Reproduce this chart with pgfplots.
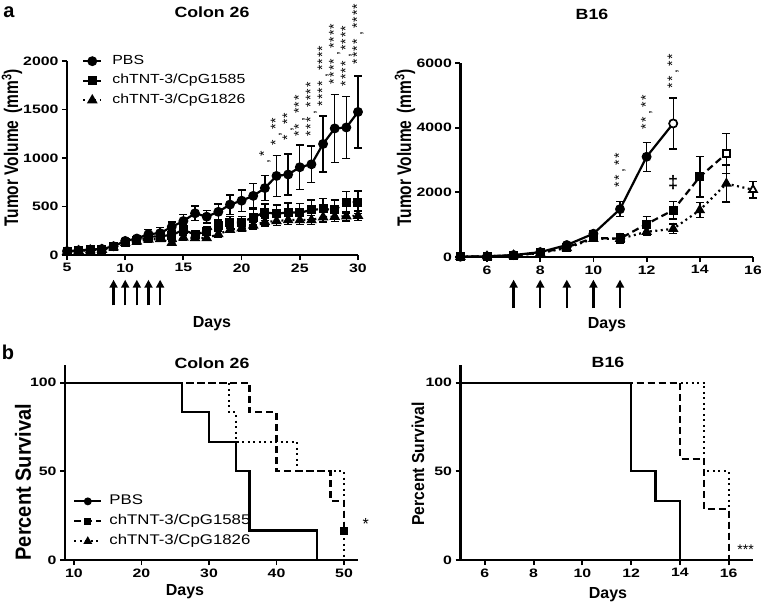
\documentclass[border=0pt]{standalone}
\usepackage{fontspec}
\setmainfont{Liberation Sans}
\newfontfamily\stf{Liberation Sans}[FakeStretch=1.3]
\newfontfamily\stg{Liberation Sans}[FakeStretch=1.2]
\usepackage{graphicx}
\usepackage{pgfplots}
\pgfplotsset{compat=1.18}
\usetikzlibrary{arrows.meta}
\newcommand{\tk}{\stf\bfseries\fontsize{12.2}{12.2}\selectfont}
\newcommand{\lgf}{\stg\fontsize{13.2}{13.2}\selectfont}
\newcommand{\ttl}{\stg\bfseries\fontsize{14.8}{14.8}\selectfont}
\newcommand{\s}{\makebox[6.6pt]{*}}
\newcommand{\cm}{\makebox[9pt]{,}}
\newcommand{\stars}{\fontsize{14}{14}\selectfont}
\tikzset{arr/.style={line width=2.4pt, -{Triangle[length=8pt,width=8pt]}}}
\pgfplotsset{
 base/.style={scale only axis, axis lines=left, axis line style={-, line width=2.2pt},
   tick align=outside, major tick length=5pt, tick style={line width=1.8pt, black},
   ticklabel style={font=\tk}, /pgf/number format/assume math mode=true,
   /pgf/number format/1000 sep={}, clip=false, minor tick num=0},
 eb/.style={error bars/.cd, y dir=both, y explicit,
   error bar style={line width=1.4pt, solid},
   error mark options={rotate=90, mark size=4pt, line width=1.4pt, solid, black}},
 pbs/.style={black, line width=2.2pt, solid, mark=*, mark size=3.8pt, mark options={solid}},
 c85/.style={black, line width=2.2pt, dash pattern=on 7pt off 4pt, mark=square*, mark size=3.4pt, mark options={solid}},
 c26/.style={black, line width=2.2pt, dash pattern=on 2pt off 3.5pt, mark=triangle*, mark size=4pt, mark options={solid}},
 spbs/.style={black, line width=2.2pt, solid, no marks},
 s85/.style={black, line width=2.2pt, dash pattern=on 7pt off 4pt, no marks},
 s26/.style={black, line width=2.2pt, dash pattern=on 2pt off 3.5pt, no marks},
}
\begin{document}
\begin{tikzpicture}
\path[use as bounding box] (0pt,0pt) rectangle (761pt,-607pt);

% ---------- Panel a, Colon 26 ----------
\begin{axis}[base, at={(67pt,-255pt)}, anchor=south west, width=291pt, height=194pt,
  xmin=5, xmax=30, ymin=0, ymax=2000, xtick={5,10,...,30}, ytick={0,500,...,2000},
  legend style={at={(axis description cs:0.0515,1.031)}, anchor=north west, draw=none, fill=none,
    inner sep=0pt, row sep=7.5pt, column sep=10pt, font=\lgf,
    nodes={inner sep=0pt, text height=9pt, text depth=3pt}},
  legend cell align=left,
  legend image code/.code={\draw[mark repeat=2,mark phase=2,#1] plot coordinates {(0pt,0pt) (9pt,0pt) (18pt,0pt)};}]
\addplot[pbs, eb] table[x=d,y=v,y error=e] {
d v e
5 40 8
6 48 8
7 55 8
8 62 10
9 90 15
10 145 20
11 170 25
12 215 50
13 225 60
14 290 50
15 350 70
16 430 75
17 395 65
18 445 80
19 520 100
20 560 110
21 610 125
22 690 130
23 815 210
24 830 210
25 905 230
26 935 190
27 1145 290
28 1305 350
29 1315 320
30 1475 370
};
\addlegendentry{PBS}
\addplot[c85, eb] table[x=d,y=v,y error=e] {
d v e
5 35 8
6 45 8
7 55 8
8 60 8
9 85 12
10 130 20
11 150 25
12 185 35
13 195 40
14 205 45
15 260 50
16 210 40
17 245 45
18 305 50
19 335 60
20 335 60
21 390 80
22 440 85
23 425 90
24 440 95
25 435 95
26 465 100
27 475 105
28 465 100
29 545 110
30 545 115
};
\addlegendentry{chTNT-3/CpG1585}
\addplot[c26, eb] table[x=d,y=v,y error=e] {
d v e
5 33 6
6 43 6
7 50 6
8 55 6
9 80 10
10 125 15
11 140 20
12 160 25
13 165 25
14 125 20
15 180 25
16 175 25
17 175 25
18 215 30
19 260 30
20 275 35
21 305 35
22 340 40
23 350 45
24 360 45
25 360 45
26 360 45
27 390 50
28 395 50
29 400 50
30 405 50
};
\addlegendentry{chTNT-3/CpG1826}
\begin{scope}[every node/.style={rotate=90, anchor=west, inner sep=0pt, font=\stars}]
\node at (axis cs:22,918) {\cm\s};
\node at (axis cs:23,1124) {\s\cm\s\s};
\node at (axis cs:24,1175) {\s\cm\s\s};
\node at (axis cs:25,1217) {\s\s\cm\s\s\s};
\node at (axis cs:26,1217) {\s\s\s\cm\s\s\s\s};
\node at (axis cs:27,1526) {\s\s\s\s\cm\s\s\s\s};
\node at (axis cs:28,1753) {\s\s\s\s\cm\s\s\s\s};
\node at (axis cs:29,1732) {\s\s\s\s\cm\s\s\s\s};
\node at (axis cs:30,1959) {\s\s\s\s\cm\s\s\s\s};
\end{scope}
\pgfplotsinvokeforeach{9,10,11,12,13}{
  \draw[arr] (axis cs:#1,-520) -- (axis cs:#1,-255);
}
\end{axis}

% ---------- Panel a, B16 ----------
\begin{axis}[base, at={(460.4pt,-257pt)}, anchor=south west, width=292.6pt, height=194pt,
  xmin=5, xmax=16, ymin=0, ymax=6000, xtick={6,8,...,16}, ytick={0,2000,4000,6000}]
\addplot[pbs, eb] table[x=d,y=v,y error=e] {
d v e
5 10 5
6 20 10
7 60 15
8 150 30
9 370 60
10 720 80
11 1480 230
12 3100 450
13 4130 790
};
\addplot[c85, eb] table[x=d,y=v,y error=e] {
d v e
5 10 5
6 20 10
7 50 15
8 130 25
9 300 60
10 590 100
11 570 150
12 1020 230
13 1450 270
14 2480 630
15 3200 620
};
\addplot[c26, eb] table[x=d,y=v,y error=e] {
d v e
5 10 5
6 20 10
7 50 15
8 120 25
9 280 50
10 560 80
11 560 130
12 780 120
13 870 150
14 1450 230
15 2270 570
16 2080 260
};
\addplot[only marks, mark=*, mark size=3.8pt, mark options={fill=white, draw=black, line width=1.2pt}] coordinates {(13,4130)};
\addplot[only marks, mark=square*, mark size=3.5pt, mark options={fill=white, draw=black, line width=1.2pt}] coordinates {(15,3200)};
\addplot[only marks, mark=triangle*, mark size=4pt, mark options={fill=white, draw=black, line width=1.2pt}] coordinates {(16,2080)};
\begin{scope}[every node/.style={rotate=90, anchor=west, inner sep=0pt, font=\stars}]
\node at (axis cs:11,2134) {\s\s\cm\s\s};
\node at (axis cs:12,3928) {\s\s\cm\s\s};
\node at (axis cs:13,5196) {\s\s\cm\s\s};
\end{scope}
\node[font=\bfseries\fontsize{18}{18}\selectfont, inner sep=0pt] at (axis cs:13,2290) {‡};
\pgfplotsinvokeforeach{7,8,9,10,11}{
  \draw[arr] (axis cs:#1,-1580) -- (axis cs:#1,-700);
}
\end{axis}

% ---------- Panel b, Colon 26 ----------
\begin{axis}[base, at={(65pt,-560pt)}, anchor=south west, width=293pt, height=195pt,
  xmin=8.67, xmax=52.07, ymin=0, ymax=110, xtick={10,20,...,50}, ytick={0,50,100},
  legend style={at={(axis description cs:0.0273,0.335)}, anchor=north west, draw=none, fill=none,
    inner sep=0pt, row sep=7pt, column sep=7pt, font=\stg\fontsize{14}{14}\selectfont,
    nodes={inner sep=0pt, text height=10pt, text depth=3pt}},
  legend cell align=left,
  legend image code/.code={\draw[mark repeat=2,mark phase=2,#1] plot coordinates {(0pt,0pt) (13.5pt,0pt) (27pt,0pt)};}]
\addlegendimage{black, line width=2.2pt, solid, mark=*, mark size=2.8pt}
\addlegendentry{PBS}
\addlegendimage{black, line width=2.2pt, dash pattern=on 7pt off 4pt, mark=square*, mark size=2.6pt, mark options={solid}}
\addlegendentry{chTNT-3/CpG1585}
\addlegendimage{black, line width=2.2pt, dash pattern=on 2pt off 3.5pt, mark=triangle*, mark size=3pt, mark options={solid}}
\addlegendentry{chTNT-3/CpG1826}
\addplot[spbs, const plot, forget plot] coordinates {(8.67,100) (26,83.33) (30,66.67) (34,50) (36,16.67) (46,0)};
\addplot[s26, const plot, forget plot] coordinates {(8.67,100) (33,83.33) (34,66.67) (43,50) (50,0)};
\addplot[s85, const plot, forget plot] coordinates {(8.67,100) (36,83.33) (40,50) (48,33.33) (50,16.67)};
\addplot[only marks, mark=square*, mark size=3.4pt, black, forget plot] coordinates {(50,16.67)};
\node[font=\fontsize{16}{16}\selectfont, inner sep=0pt] at (axis cs:53.2,20.5) {*};
\end{axis}

% ---------- Panel b, B16 ----------
\begin{axis}[base, at={(460.5pt,-560pt)}, anchor=south west, width=292.5pt, height=195pt,
  xmin=5, xmax=17, ymin=0, ymax=110, xtick={6,8,...,16}, ytick={0,50,100}]
\addplot[spbs, const plot] coordinates {(5,100) (12,50) (13,33.33) (14,0)};
\addplot[s26, const plot] coordinates {(5,100) (15,50) (16,0)};
\addplot[s85, const plot] coordinates {(5,100) (14,57.14) (15,28.57) (16,0)};
\node[font=\fontsize{14}{14}\selectfont, inner sep=0pt, anchor=west] at (axis cs:16.35,6) {***};
\end{axis}

% ---------- text ----------
\node[font=\bfseries\fontsize{20}{20}\selectfont, inner sep=0pt] at (9pt,-12pt) {a};
\node[font=\bfseries\fontsize{20}{20}\selectfont, inner sep=0pt] at (8pt,-352pt) {b};
\node[font=\ttl, inner sep=0pt] at (212pt,-12pt) {Colon 26};
\node[font=\ttl, inner sep=0pt] at (592pt,-14pt) {B16};
\node[font=\ttl, inner sep=0pt] at (212pt,-363pt) {Colon 26};
\node[font=\ttl, inner sep=0pt] at (608pt,-362pt) {B16};
\node[font=\bfseries\fontsize{16}{16}\selectfont, inner sep=0pt] at (212pt,-324pt) {Days};
\node[font=\bfseries\fontsize{16}{16}\selectfont, inner sep=0pt] at (607pt,-325pt) {Days};
\node[font=\bfseries\fontsize{16}{16}\selectfont, inner sep=0pt] at (185pt,-592pt) {Days};
\node[font=\bfseries\fontsize{16}{16}\selectfont, inner sep=0pt] at (608pt,-595pt) {Days};
\node[rotate=90, inner sep=0pt] at (12pt,-148pt) {\scalebox{1}[1.27]{\bfseries\fontsize{15.5}{15.5}\selectfont Tumor Volume\ \,(mm\textsuperscript{3})}};
\node[rotate=90, inner sep=0pt] at (405pt,-148pt) {\scalebox{1}[1.27]{\bfseries\fontsize{15.5}{15.5}\selectfont Tumor Volume\ \,(mm\textsuperscript{3})}};
\node[rotate=90, inner sep=0pt] at (23pt,-482pt) {\scalebox{1}[1.1]{\bfseries\fontsize{20}{20}\selectfont Percent Survival}};
\node[rotate=90, inner sep=0pt] at (418pt,-464pt) {\scalebox{1}[1.1]{\bfseries\fontsize{15.7}{15.7}\selectfont Percent Survival}};
\end{tikzpicture}
\end{document}
